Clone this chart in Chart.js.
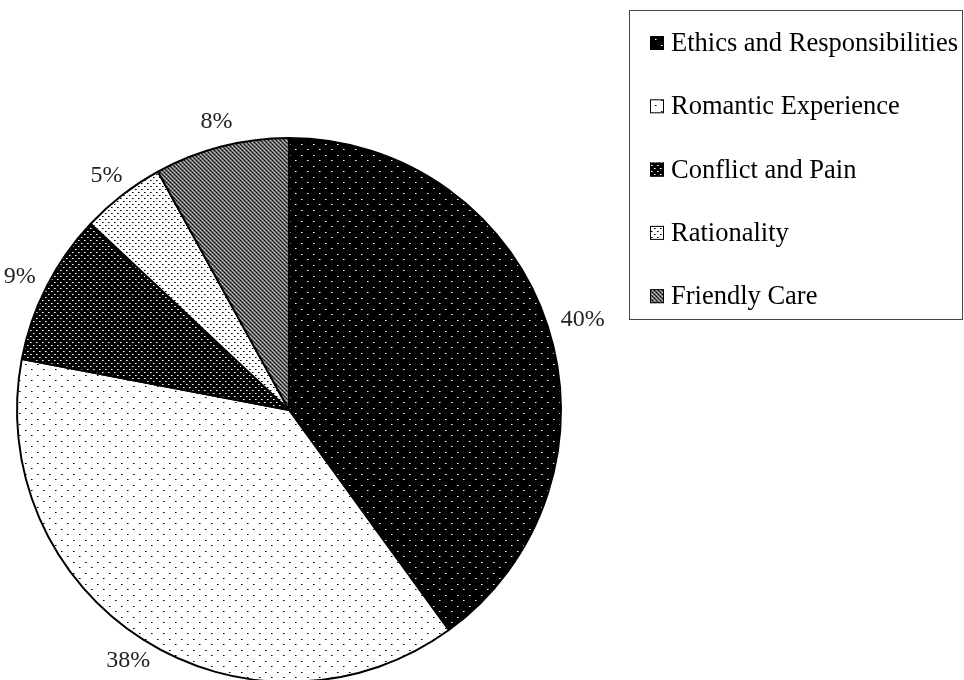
<!DOCTYPE html>
<html>
<head>
<meta charset="utf-8">
<script src="https://cdn.jsdelivr.net/npm/chart.js@4"></script>
<style>
  html, body { margin: 0; padding: 0; background: #fff; overflow: hidden; }
  #wrap { width: 964px; height: 680px; overflow: hidden; position: relative; }
</style>
</head>
<body>
<div id="wrap"><canvas id="pie" width="964" height="700"></canvas></div>
<script>
// data
var categories = ['Ethics and Responsibilities', 'Romantic Experience', 'Conflict and Pain', 'Rationality', 'Friendly Care'];
var shares = [40, 38, 9, 5, 8];

//================================ fill patterns (black & white print style)
var tmp = document.createElement('canvas').getContext('2d');
function pat(w, h, bg, dots) {
    var c = document.createElement('canvas');
    c.width = w; c.height = h;
    var g = c.getContext('2d');
    g.fillStyle = bg;
    g.fillRect(0, 0, w, h);
    dots.forEach(function (d) {
        g.fillStyle = d[2];
        g.fillRect(d[0], d[1], d[3] || 1, d[4] || 1);
    });
    return tmp.createPattern(c, 'repeat');
}

var fills = [
    // sparse white dots on black
    pat(12, 11, '#000', [[1, 1, '#fff'], [2, 1, '#888'], [7, 6, '#fff'], [8, 6, '#888']]),
    // sparse black dots on white
    pat(12, 11, '#fff', [[1, 1, '#000'], [2, 1, '#777'], [7, 6, '#000'], [8, 6, '#777']]),
    // dense white dots on black
    pat(6, 6, '#000', [[0, 0, '#fff'], [1, 0, '#999'], [3, 3, '#fff'], [4, 3, '#999']]),
    // dense black dots on white
    pat(6, 6, '#fff', [[0, 0, '#000'], [1, 0, '#666'], [3, 3, '#000'], [4, 3, '#666']]),
    // gray lattice
    pat(4, 4, '#6e6e6e', [[0, 0, '#000'], [2, 2, '#000'], [2, 0, '#c8c8c8'], [0, 2, '#c8c8c8'], [1, 1, '#333'], [3, 3, '#333'], [3, 1, '#999'], [1, 3, '#999']])
];

//================================ percent labels outside the slices
var outsideLabels = {
    id: 'outsideLabels',
    afterDatasetsDraw: function (chart) {
        var ctx = chart.ctx;
        var meta = chart.getDatasetMeta(0);
        var data = chart.data.datasets[0].data;
        var sum = data.reduce(function (a, b) { return a + b; }, 0);
        ctx.save();
        ctx.font = '24px "Liberation Serif", serif';
        ctx.fillStyle = '#222';
        ctx.textAlign = 'center';
        ctx.textBaseline = 'middle';
        meta.data.forEach(function (arc, i) {
            var mid = (arc.startAngle + arc.endAngle) / 2;
            var txt = Math.round(data[i] * 100 / sum) + '%';
            var w = ctx.measureText(txt).width;
            var h = 20;
            var r = arc.outerRadius + 16;
            var x = arc.x + Math.cos(mid) * (r + w / 2 * Math.abs(Math.cos(mid)));
            var y = arc.y + Math.sin(mid) * (r + h / 2 * Math.abs(Math.sin(mid)));
            ctx.fillText(txt, x, y);
        });
        ctx.restore();
    }
};

//================================ boxed legend on the right
var boxLegend = {
    id: 'boxLegend',
    afterDraw: function (chart) {
        var ctx = chart.ctx;
        var bg = chart.data.datasets[0].backgroundColor;
        ctx.save();
        ctx.strokeStyle = '#444';
        ctx.lineWidth = 1;
        ctx.strokeRect(629.5, 10.5, 333, 309);
        ctx.font = '26.5px "Liberation Serif", serif';
        ctx.textBaseline = 'middle';
        chart.data.labels.forEach(function (lab, i) {
            var y = 43 + i * 63.3;
            ctx.fillStyle = bg[i];
            ctx.fillRect(650, y - 7, 14, 14);
            ctx.strokeStyle = '#000';
            ctx.strokeRect(650.5, y - 6.5, 13, 13);
            ctx.fillStyle = '#000';
            ctx.fillText(lab, 671, y + 1);
        });
        ctx.restore();
    }
};

var ctx1 = document.getElementById('pie');
var pieChart = new Chart(ctx1, {
    type: 'pie',
    data: {
        labels: categories,
        datasets: [{
            data: shares,
            backgroundColor: fills,
            borderColor: '#000',
            borderWidth: 2
        }]
    },
    options: {
        responsive: false,
        animation: false,
        layout: { padding: { left: 16, right: 402, top: 137, bottom: 17 } },
        plugins: {
            legend: { display: false },
            tooltip: { enabled: false }
        }
    },
    plugins: [outsideLabels, boxLegend]
});
</script>
</body>
</html>
